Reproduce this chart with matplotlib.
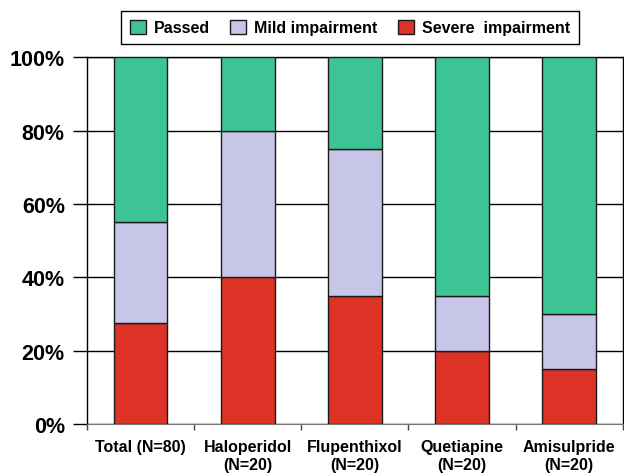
import numpy as np
import matplotlib.pyplot as plt
from matplotlib.ticker import PercentFormatter

groups = ["Total (N=80)", "Haloperidol\n(N=20)", "Flupenthixol\n(N=20)",
          "Quetiapine\n(N=20)", "Amisulpride\n(N=20)"]
severe = [27.5, 40, 35, 20, 15]
mild = [27.5, 40, 40, 15, 15]
passed = [45, 20, 25, 65, 70]

plt.rcParams['font.family'] = ['Liberation Sans', 'DejaVu Sans']
plt.rcParams['font.weight'] = 'bold'

fig = plt.figure(figsize=(6.24, 4.77), dpi=100)
ax = fig.add_axes([0.1394, 0.109, 0.8586, 0.769])

x = np.arange(len(groups))
w = 0.5
ec = '#1a1a1a'
b1 = ax.bar(x, severe, w, color='#dd3226', edgecolor=ec, linewidth=1, zorder=3)
b2 = ax.bar(x, mild, w, bottom=severe, color='#c8c6e8', edgecolor=ec, linewidth=1, zorder=3)
bottom2 = np.array(severe) + np.array(mild)
b3 = ax.bar(x, passed, w, bottom=bottom2, color='#3dc495', edgecolor=ec, linewidth=1, zorder=3)

ax.set_xlim(-0.5, len(groups) - 0.5)
ax.set_ylim(0, 100)
ax.set_yticks(np.arange(0, 101, 20))
ax.yaxis.set_major_formatter(PercentFormatter(decimals=0))
ax.yaxis.grid(True, color='black', linewidth=1, zorder=0)

ax.set_xticks(x)
ax.set_xticklabels(groups, fontsize=11.5, fontweight='bold', linespacing=1.25)
ax.set_xticks(np.arange(-0.5, len(groups)), minor=True)
ax.tick_params(axis='x', which='major', length=0, pad=11)
ax.tick_params(axis='x', which='minor', length=4, width=1, color='#444444')
ax.tick_params(axis='y', length=10, width=1, pad=6, labelsize=15.5)
for lbl in ax.get_yticklabels():
    lbl.set_fontweight('bold')

for side in ['left', 'right', 'top']:
    ax.spines[side].set_color('black')
    ax.spines[side].set_linewidth(1)
ax.spines['bottom'].set_color('#777777')

fig.legend([b3, b2, b1], ['Passed', 'Mild impairment', 'Severe  impairment'],
           loc='center', bbox_to_anchor=(0.561, 0.940), ncol=3,
           frameon=True, fancybox=False, edgecolor='black', framealpha=1,
           prop={'weight': 'bold', 'size': 11.5}, handlelength=1.0, handleheight=1.0,
           columnspacing=1.3, handletextpad=0.5, borderpad=0.55)

fig.savefig('out.png', dpi=100)
